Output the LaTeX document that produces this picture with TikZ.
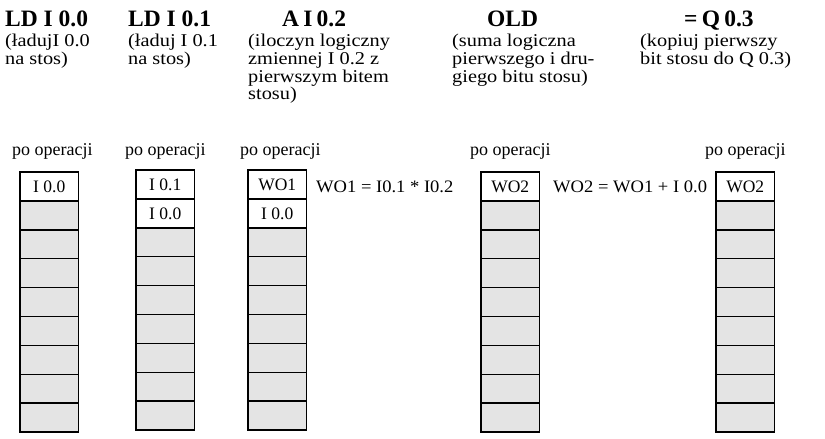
\documentclass[tikz,border=0pt]{standalone}
\usepackage{fontspec}
\setmainfont{Liberation Serif}
\newfontfamily\descfont{Liberation Serif}[FakeStretch=1.13]
\newfontfamily\eqfont{Liberation Serif}[FakeStretch=1.06]
\definecolor{cellgray}{HTML}{E4E4E4}
\begin{document}
\begin{tikzpicture}[x=1pt,y=-1pt,
  cell/.style={draw, line width=1.5pt, fill=cellgray, minimum width=58.5pt, minimum height=28.9pt, inner sep=0pt, outer sep=0pt, anchor=north west, font=\fontsize{17.5}{18}\selectfont},
  topcell/.style={cell, fill=white},
  head/.style={anchor=base west, inner sep=0pt, font=\fontsize{23.5}{24}\bfseries\selectfont},
  desc/.style={anchor=base west, inner sep=0pt, align=left, font=\descfont\fontsize{18}{17.8}\selectfont},
  lbl/.style={anchor=base west, inner sep=0pt, font=\fontsize{18}{18}\selectfont},
  eq/.style={anchor=base west, inner sep=0pt, font=\eqfont\fontsize{17.5}{18}\selectfont}]
\useasboundingbox[fill=white] (0,0) rectangle (825,439);

% headers
\node[head] (h1) at (5,26) {LD I 0.0};
\node[head] (h2) at (128,26) {LD I 0.1};
\node[head] (h3) at (282,27) {A\hspace{0.18em}I\hspace{0.18em}0.2};
\node[head] (h4) at (487,26) {OLD};
\node[head] (h5) at (684,26) {=\hspace{0.18em}Q\hspace{0.18em}0.3};

% descriptions (anchor = baseline of last line)
\node[desc] (d1) at (5,64.3) {(ładujI 0.0\\na stos)};
\node[desc] (d2) at (128,64.3) {(ładuj I 0.1\\na stos)};
\node[desc] (d3) at (248,99.9) {(iloczyn logiczny\\zmiennej I 0.2 z\\pierwszym bitem\\stosu)};
\node[desc] (d4) at (452,82.1) {(suma logiczna\\pierwszego i dru-\\giego bitu stosu)};
\node[desc] (d5) at (640,64.3) {(kopiuj pierwszy\\bit stosu do Q 0.3)};

% po operacji
\node[lbl] (p1) at (12,155) {po operacji};
\node[lbl] (p2) at (125,155) {po operacji};
\node[lbl] (p3) at (240,155) {po operacji};
\node[lbl] (p4) at (470,155) {po operacji};
\node[lbl] (p5) at (705,155) {po operacji};

% equations
\node[eq] (e1) at (316,192) {WO1 = I0.1 * I0.2};
\node[eq] (e2) at (553,192) {WO2 = WO1 + I 0.0};

% stack 1
\node[topcell] (s1c1) at (20,172) {I 0.0};
\foreach \i in {2,...,9} \node[cell] (s1c\i) at (20,{172+(\i-1)*28.9}) {};
% stack 2
\node[topcell] (s2c1) at (136,170) {I 0.1};
\node[topcell] (s2c2) at (136,198.9) {I 0.0};
\foreach \i in {3,...,9} \node[cell] (s2c\i) at (136,{170+(\i-1)*28.9}) {};
% stack 3
\node[topcell] (s3c1) at (248,170) {WO1};
\node[topcell] (s3c2) at (248,198.9) {I 0.0};
\foreach \i in {3,...,9} \node[cell] (s3c\i) at (248,{170+(\i-1)*28.9}) {};
% stack 4
\node[topcell] (s4c1) at (481,172) {WO2};
\foreach \i in {2,...,9} \node[cell] (s4c\i) at (481,{172+(\i-1)*28.9}) {};
% stack 5
\node[topcell] (s5c1) at (716,172) {WO2};
\foreach \i in {2,...,9} \node[cell] (s5c\i) at (716,{172+(\i-1)*28.9}) {};
\end{tikzpicture}
\end{document}
